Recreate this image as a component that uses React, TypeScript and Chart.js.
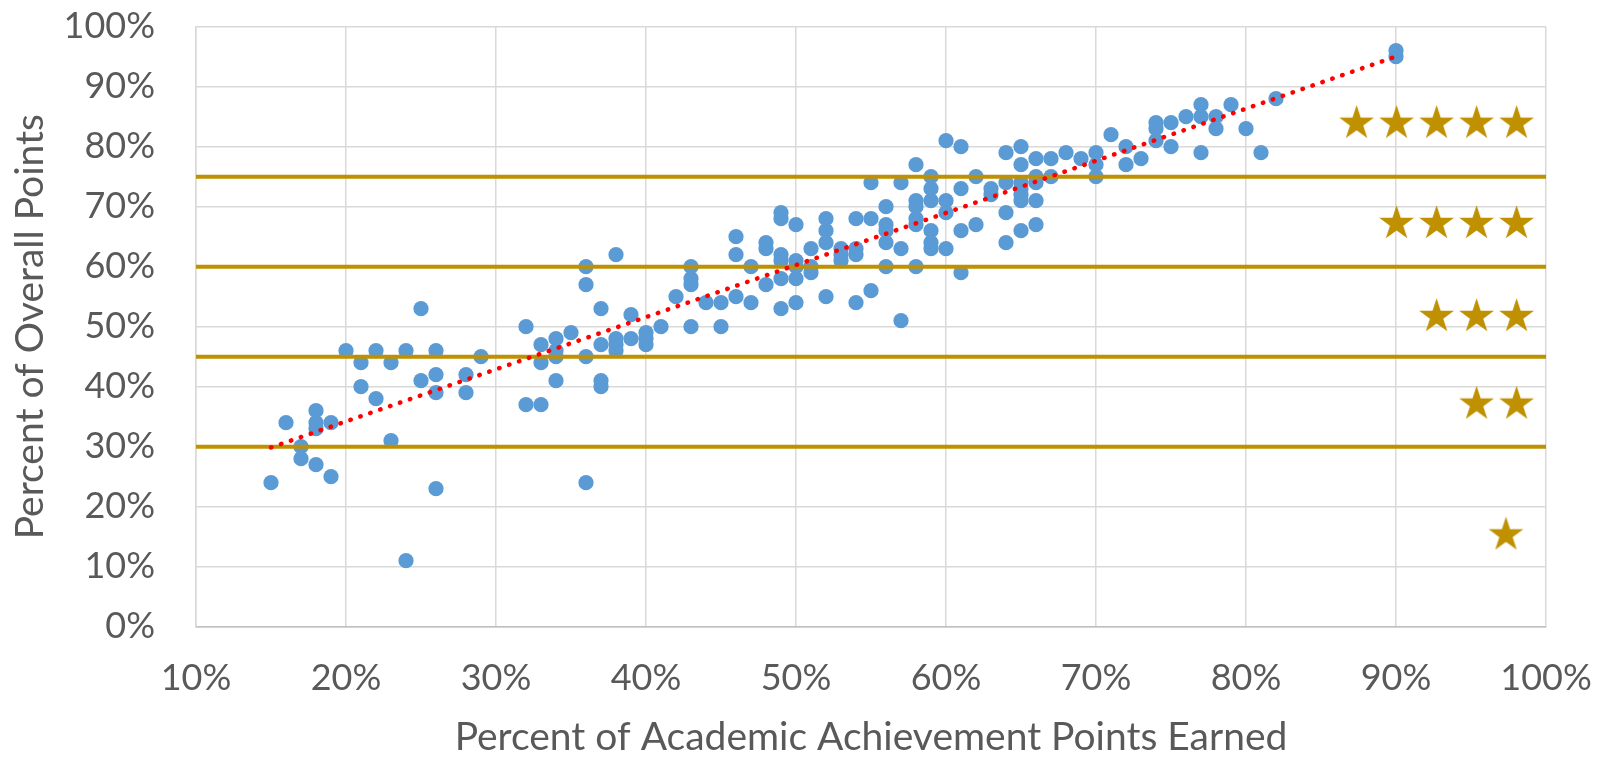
import React, { useEffect, useRef } from "react";
import { Chart, registerables } from "chart.js";

Chart.register(...registerables);

// Percent of Academic Achievement Points Earned (x) for each school
const academicPct = [
  15, 16, 17, 17, 18, 18, 18, 18, 19, 19,
  20, 21, 21, 22, 22, 23, 23, 24, 24, 25, 25, 26, 26, 26, 26, 28, 28, 29,
  32, 32, 33, 33, 33, 34, 34, 34, 34, 35, 36, 36, 36, 36, 37, 37, 37, 37, 38, 38, 38, 38, 39, 39,
  40, 40, 40, 41, 42, 43, 43, 43, 43, 44, 45, 45, 46, 46, 46, 47, 47, 48, 48, 48, 49, 49, 49, 49, 49, 49,
  50, 50, 50, 50, 50, 51, 51, 51, 52, 52, 52, 52, 53, 53, 53, 54, 54, 54, 54, 55, 55, 55,
  56, 56, 56, 56, 56, 57, 57, 57, 58, 58, 58, 58, 58, 58, 59, 59, 59, 59, 59, 59,
  60, 60, 60, 60, 61, 61, 61, 61, 62, 62, 63, 63, 64, 64, 64, 64, 65, 65, 65, 65, 65, 65, 65,
  66, 66, 66, 66, 66, 67, 67, 68, 69,
  70, 70, 70, 71, 72, 72, 73, 74, 74, 74, 75, 75, 76, 77, 77, 77, 78, 78, 79,
  80, 81, 82, 90, 90,
];

// Percent of Overall Points (y) for each school, same order as academicPct
const overallPct = [
  24, 34, 30, 28, 36, 34, 33, 27, 34, 25,
  46, 44, 40, 46, 38, 44, 31, 46, 11, 53, 41, 46, 42, 39, 23, 42, 39, 45,
  50, 37, 47, 44, 37, 48, 46, 45, 41, 49, 60, 57, 45, 24, 53, 47, 41, 40, 62, 48, 47, 46, 52, 48,
  49, 48, 47, 50, 55, 60, 58, 57, 50, 54, 54, 50, 65, 62, 55, 60, 54, 64, 63, 57, 69, 68, 62, 61, 58, 53,
  67, 61, 60, 58, 54, 63, 60, 59, 68, 66, 64, 55, 63, 62, 61, 68, 63, 62, 54, 74, 68, 56,
  70, 67, 66, 64, 60, 74, 63, 51, 77, 71, 70, 68, 67, 60, 75, 73, 71, 66, 64, 63,
  81, 71, 69, 63, 80, 73, 66, 59, 75, 67, 73, 72, 79, 74, 69, 64, 80, 77, 74, 73, 72, 71, 66,
  78, 75, 74, 71, 67, 78, 75, 79, 78,
  79, 77, 75, 82, 80, 77, 78, 84, 83, 81, 84, 80, 85, 87, 85, 79, 85, 83, 87,
  83, 79, 88, 96, 95,
];

// Star-rating cut points (percent of overall points)
const ratingThresholds = [30, 45, 60, 75];

// Star rating rows: number of stars, vertical level (%), right-most star x (%)
const starCounts = [5, 4, 3, 2, 1];
const starLevels = [83.9, 67.2, 51.7, 37.1, 15.3];
const starRightX = [98.04, 98.04, 98.04, 98.04, 97.33];
const starStep = 2.667;

const xTickValues = [10, 20, 30, 40, 50, 60, 70, 80, 90, 100];
const xTitle = "Percent of Academic Achievement Points Earned";
const yTitle = "Percent of Overall Points";

const FONT = "Lato, 'Open Sans', sans-serif";
const TEXT = "#595959";
const GOLD = "#bf9000";

function makeStar(R: number, color: string): HTMLCanvasElement {
  const size = Math.ceil(R * 2 + 4);
  const c = document.createElement("canvas");
  c.width = size;
  c.height = size;
  const ctx = c.getContext("2d")!;
  const cx = size / 2;
  const cy = size / 2;
  const r = R * 0.382;
  ctx.beginPath();
  for (let i = 0; i < 10; i++) {
    const rad = i % 2 === 0 ? R : r;
    const a = -Math.PI / 2 + (i * Math.PI) / 5;
    const px = cx + rad * Math.cos(a);
    const py = cy + rad * Math.sin(a);
    if (i === 0) ctx.moveTo(px, py);
    else ctx.lineTo(px, py);
  }
  ctx.closePath();
  ctx.fillStyle = color;
  ctx.fill();
  return c;
}

export default function App() {
  const ref = useRef<HTMLCanvasElement>(null);

  useEffect(() => {
    const canvas = ref.current;
    if (!canvas) return;

    const points = academicPct.map((x, i) => ({ x, y: overallPct[i] }));

    // least-squares linear trendline
    const n = points.length;
    const mx = academicPct.reduce((a, b) => a + b, 0) / n;
    const my = overallPct.reduce((a, b) => a + b, 0) / n;
    let sxy = 0;
    let sxx = 0;
    for (let i = 0; i < n; i++) {
      sxy += (academicPct[i] - mx) * (overallPct[i] - my);
      sxx += (academicPct[i] - mx) ** 2;
    }
    const slope = sxy / sxx;
    const intercept = my - slope * mx;
    const minX = Math.min(...academicPct);
    const maxX = Math.max(...academicPct);
    const trend = [
      { x: minX, y: intercept + slope * minX },
      { x: maxX, y: intercept + slope * maxX },
    ];

    const starPoints: { x: number; y: number }[] = [];
    starCounts.forEach((count, r) => {
      for (let k = 0; k < count; k++) {
        starPoints.push({ x: starRightX[r] - k * starStep, y: starLevels[r] });
      }
    });
    const starImg = makeStar(18.3, GOLD);

    const thresholdSets = ratingThresholds.map((t) => ({
      data: [
        { x: xTickValues[0], y: t },
        { x: xTickValues[xTickValues.length - 1], y: t },
      ],
      showLine: true,
      borderColor: GOLD,
      borderWidth: 4,
      pointRadius: 0,
      order: 1,
    }));

    const chart = new Chart(canvas, {
      type: "scatter",
      data: {
        datasets: [
          {
            data: trend,
            showLine: true,
            borderColor: "#ff0000",
            borderWidth: 4.5,
            borderDash: [0.5, 10],
            borderCapStyle: "round",
            pointRadius: 0,
            order: 0,
          } as any,
          ...thresholdSets,
          {
            data: starPoints,
            pointStyle: starImg,
            pointRadius: 18,
            order: 2,
          } as any,
          {
            data: points,
            backgroundColor: "#5b9bd5",
            borderWidth: 0,
            pointRadius: 7.6,
            order: 3,
          },
        ],
      },
      options: {
        responsive: false,
        animation: false,
        layout: {
          autoPadding: false,
          padding: { top: 26.7, right: 66, left: 0, bottom: 0 },
        },
        plugins: {
          legend: { display: false },
          tooltip: { enabled: false },
        },
        scales: {
          x: {
            type: "linear",
            min: 10,
            max: 100,
            afterBuildTicks: (s: any) => {
              s.ticks = xTickValues.map((v) => ({ value: v }));
            },
            ticks: {
              autoSkip: false,
              maxRotation: 0,
              color: TEXT,
              font: { family: FONT, size: 36 },
              padding: 30,
              callback: (v: any) => v + "%",
            },
            grid: { color: "#d9d9d9", lineWidth: 1.5, drawTicks: false },
            border: { color: "#bfbfbf", width: 1.5 },
            title: {
              display: true,
              text: xTitle,
              color: TEXT,
              font: { family: FONT, size: 39, lineHeight: 1 },
              padding: { top: 0, bottom: 1 },
            },
            afterFit: (s: any) => {
              s.height = 131.3;
              s.paddingLeft = 0;
              s.paddingRight = 0;
            },
          },
          y: {
            min: 0,
            max: 100,
            ticks: {
              stepSize: 10,
              color: TEXT,
              font: { family: FONT, size: 36 },
              padding: 41,
              callback: (v: any) => v + "%",
            },
            grid: { color: "#d9d9d9", lineWidth: 1.5, drawTicks: false },
            border: { color: "#d9d9d9", width: 1.5 },
            title: {
              display: true,
              text: yTitle,
              color: TEXT,
              font: { family: FONT, size: 39, lineHeight: 1 },
              padding: { top: 11, bottom: 0 },
            },
            afterFit: (s: any) => {
              s.width = 196;
              s.paddingTop = 0;
              s.paddingBottom = 0;
            },
          },
        },
      },
    });

    return () => chart.destroy();
  }, []);

  return (
    <div
      style={{
        position: "fixed",
        left: 0,
        top: 0,
        width: 1612,
        height: 758,
        background: "#ffffff",
      }}
    >
      <canvas
        ref={ref}
        width={1612}
        height={758}
        style={{ display: "block", width: 1612, height: 758 }}
      />
    </div>
  );
}
